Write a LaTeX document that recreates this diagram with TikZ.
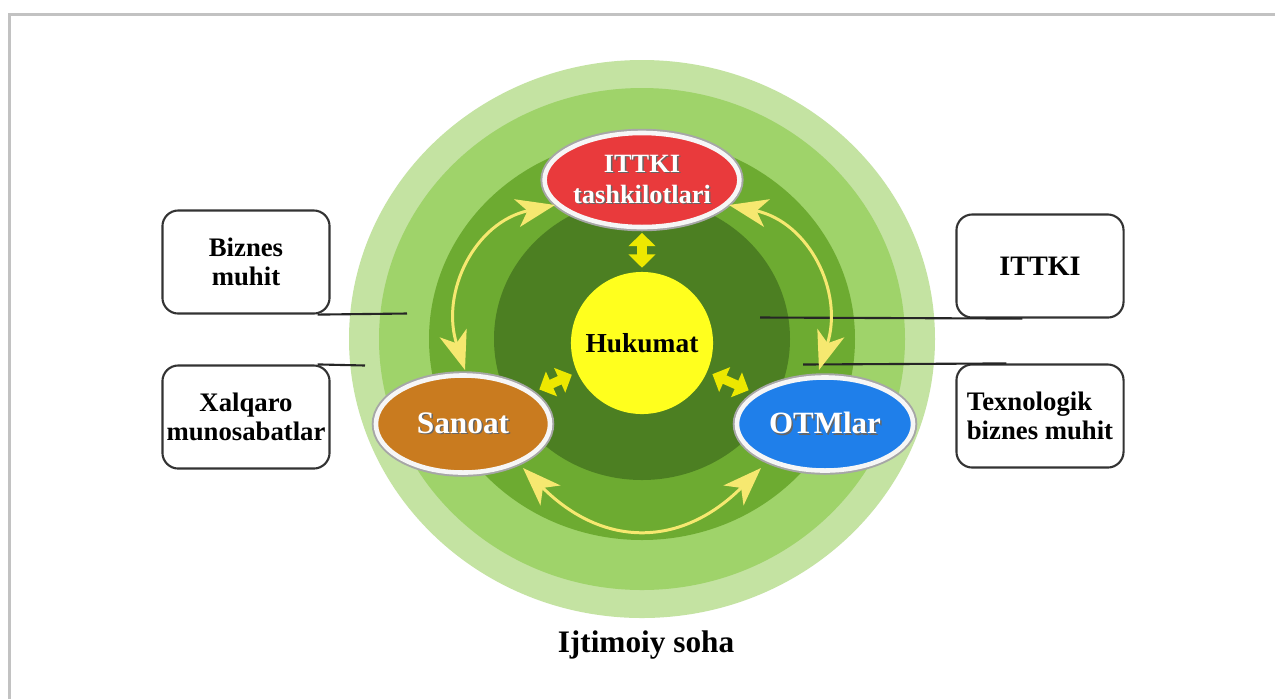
\documentclass[tikz,border=0pt]{standalone}
\usepackage{fontspec}
\setmainfont{Liberation Serif}
\usetikzlibrary{shapes.geometric,arrows.meta}
\definecolor{ringA}{HTML}{C4E3A2}
\definecolor{ringB}{HTML}{9FD36A}
\definecolor{ringC}{HTML}{6DAB31}
\definecolor{ringD}{HTML}{4C7F22}
\definecolor{hyellow}{HTML}{FFFF1E}
\definecolor{cred}{HTML}{E93A3C}
\definecolor{corange}{HTML}{C97B1F}
\definecolor{cblue}{HTML}{1F7FEA}
\definecolor{arcyellow}{HTML}{F6E870}
\definecolor{fatyellow}{HTML}{EDE800}
\definecolor{framegray}{HTML}{C2C2C2}
\newcommand\shd[1]{\leavevmode\rlap{\kern0.4pt\raisebox{-0.4pt}{\color{black!60}#1}}#1}
\tikzset{
  orb/.style={ellipse, inner sep=0pt, text=white,
    preaction={draw=gray!70, line width=2.4pt},
    draw=white!93!gray, line width=1.3pt},
  infobox/.style={draw=black!80, line width=0.6pt, rounded corners=4.5pt, fill=white,
    minimum width=1.67cm, minimum height=1.03cm, inner sep=1pt,
    font=\bfseries\fontsize{7.6}{8.4}\selectfont},
  lead/.style={black!85, line width=0.6pt},
  arcarrow/.style={arcyellow, line width=0.85pt,
    {Stealth[length=11pt,width=8pt,inset=3pt]}-{Stealth[length=11pt,width=8pt,inset=3pt]}},
  fatarrow/.style={fatyellow, line width=2.6pt,
    {Triangle[length=3.8pt,width=7.5pt]}-{Triangle[length=3.8pt,width=7.5pt]}}
}
\begin{document}
\begin{tikzpicture}[x=0.01cm,y=-0.01cm]
\useasboundingbox (0,0) rectangle (1275,699);
\fill[white] (0,0) rectangle (1275,699);
\draw[framegray, line width=0.6pt] (9.5,699) -- (9.5,14.5) -- (1275,14.5);
% rings
\fill[ringA] (642,339) ellipse [x radius=293, y radius=279];
\fill[ringB] (642,339) ellipse [x radius=263, y radius=251];
\fill[ringC] (642,339) ellipse [x radius=213, y radius=201];
\fill[ringD] (642,339) ellipse [x radius=148, y radius=141];
% info boxes
\node[infobox, align=center] (biz) at (246,262) {Biznes\\muhit};
\node[infobox, align=center] (xal) at (246,417) {Xalqaro\\munosabatlar};
\node[infobox, align=center] (itb) at (1040,266) {\fontsize{8}{9}\selectfont ITTKI};
\node[infobox, align=left] (tex) at (1040,416) {Texnologik\\biznes muhit};
\coordinate (bizL) at (407,313.5);
\coordinate (xalL) at (365,365.5);
\coordinate (itbL) at (760,317.5);
\coordinate (texL) at (803,364.5);
\draw[lead] ([xshift=-0.13cm]biz.south east) -- (bizL);
\draw[lead] ([xshift=-0.13cm]xal.north east) -- (xalL);
\draw[lead] (itbL) -- ([xshift=0.67cm]itb.south west);
\draw[lead] (texL) -- ([xshift=0.51cm]tex.north west);
% centre
\node[circle, fill=hyellow, minimum size=1.42cm, inner sep=0pt,
  font=\bfseries\fontsize{7.8}{9}\selectfont] (huk) at (642,343) {Hukumat};
\node[orb, fill=cred, minimum width=1.84cm, minimum height=0.94cm, align=center,
  font=\bfseries\fontsize{7.5}{8.8}\selectfont] (itt) at (642,180) {\shd{ITTKI}\\\shd{tashkilotlari}};
\node[orb, fill=corange, minimum width=1.74cm, minimum height=0.97cm,
  font=\bfseries\fontsize{8.9}{10}\selectfont] (san) at (463,424) {\shd{Sanoat}};
\node[orb, fill=cblue, minimum width=1.76cm, minimum height=0.93cm,
  font=\bfseries\fontsize{8.8}{10}\selectfont] (otm) at (825,424) {\shd{OTMlar}};
% fat arrows
\draw[fatarrow, shorten <=1pt, shorten >=1pt] (itt) -- (huk);
\draw[fatarrow, shorten <=2pt, shorten >=1.5pt] (san) -- (huk);
\draw[fatarrow, shorten <=2pt, shorten >=1.5pt] (otm) -- (huk);
% arc arrows
\coordinate (a1) at (555,205);
\coordinate (a2) at (465,370);
\coordinate (a3) at (729,205);
\coordinate (a4) at (819,370);
\coordinate (b1) at (523,468);
\coordinate (b2) at (761,468);
\draw[arcarrow] (a1) .. controls (475,222) and (440,292) .. (a2);
\draw[arcarrow] (a3) .. controls (809,222) and (844,292) .. (a4);
\draw[arcarrow] (b1) .. controls (603,548) and (681,548) .. (b2);
% caption
\node[anchor=base, font=\bfseries\fontsize{8.9}{10}\selectfont] (soha) at (646,652) {Ijtimoiy soha};
\end{tikzpicture}
\end{document}
